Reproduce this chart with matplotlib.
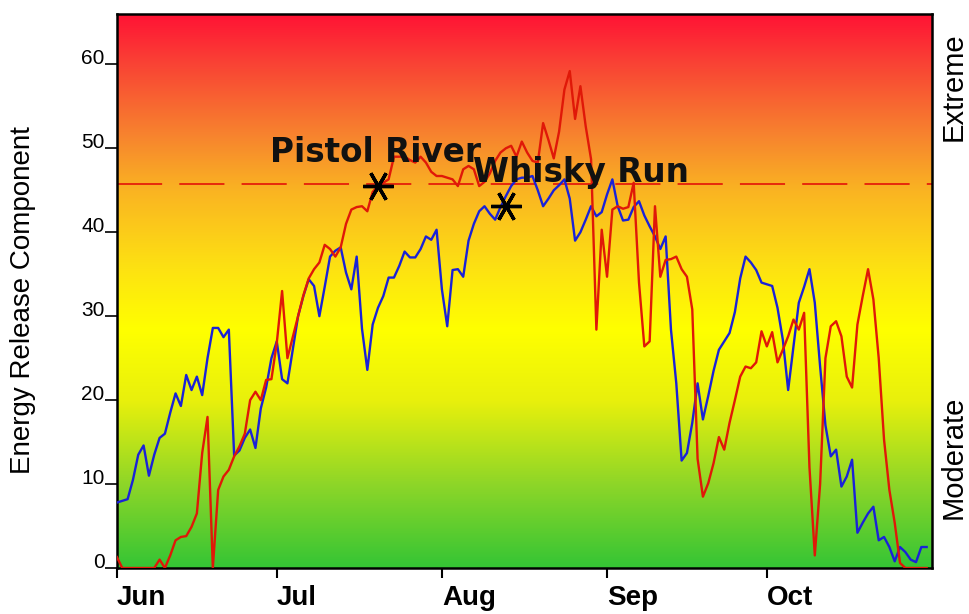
import numpy as np
import pandas as pd
import matplotlib
matplotlib.use('Agg')
import matplotlib.pyplot as plt
import matplotlib.dates as mdates
from matplotlib.colors import LinearSegmentedColormap

# daily ERC values, Jun 1 .. Oct 31
dates = pd.date_range('2010-06-01', '2010-10-31', freq='D')

whisky_run = [
    7.8, 8.0, 8.2, 10.5, 13.5, 14.6, 11.0, 13.5, 15.5, 16.0,
    18.5, 20.8, 19.3, 23.0, 21.2, 22.8, 20.6, 25.0, 28.6, 28.6,
    27.5, 28.4, 13.4, 14.0, 15.5, 16.5, 14.3, 19.0, 21.5, 25.0,
    27.0, 22.5, 22.0, 26.0, 30.0, 32.4, 34.4, 33.6, 30.0, 33.5,
    37.1, 37.8, 38.2, 35.2, 33.2, 37.1, 28.5, 23.6, 29.0, 31.0,
    32.4, 34.6, 34.6, 36.0, 37.7, 37.0, 37.0, 38.0, 39.5, 39.1,
    40.3, 33.2, 28.8, 35.5, 35.6, 34.7, 39.0, 41.0, 42.5, 43.1,
    42.2, 41.5, 43.0, 44.3, 45.5, 46.3, 46.5, 46.5, 46.7, 45.0,
    43.1, 44.0, 45.0, 45.6, 46.3, 44.0, 39.0, 40.0, 41.5, 43.1,
    41.9, 42.4, 44.5, 46.3, 43.1, 41.4, 41.5, 43.0, 43.7, 42.0,
    40.7, 39.5, 38.0, 39.5, 28.4, 22.0, 12.8, 13.7, 17.3, 22.0,
    17.7, 20.5, 23.5, 26.0, 27.0, 28.0, 30.5, 34.5, 37.1, 36.4,
    35.5, 34.0, 33.8, 33.6, 31.0, 27.2, 21.2, 26.4, 31.6, 33.5,
    35.6, 31.6, 24.0, 17.0, 13.3, 14.1, 9.7, 10.9, 12.9, 4.2,
    5.4, 6.5, 7.3, 3.3, 3.7, 2.5, 0.8, 2.5, 1.9, 1.0,
    0.7, 2.5, 2.5,
]

pistol_river = [
    1.3, 0.0, 0.0, 0.0, 0.0, 0.0, 0.0, 0.0, 1.0, 0.0,
    1.5, 3.3, 3.7, 3.8, 4.9, 6.5, 13.7, 18.0, 0.0, 9.3,
    10.9, 11.7, 13.3, 14.5, 16.0, 20.0, 21.0, 20.0, 22.4, 22.5,
    26.8, 33.0, 25.0, 27.5, 30.0, 32.5, 34.5, 35.6, 36.4, 38.5,
    38.0, 37.1, 38.2, 41.0, 42.7, 43.0, 43.1, 42.5, 44.8, 45.5,
    45.9, 46.3, 49.0, 49.0, 49.0, 48.6, 48.3, 49.0, 48.3, 47.2,
    46.7, 46.7, 46.5, 46.3, 45.5, 47.5, 47.9, 47.5, 45.5, 46.0,
    47.0, 48.5, 49.5, 50.0, 50.3, 49.0, 50.8, 49.5, 48.5, 48.3,
    53.0, 51.0, 48.8, 52.0, 57.0, 59.2, 53.5, 57.4, 52.6, 48.7,
    28.4, 40.3, 34.7, 42.7, 43.1, 42.8, 43.0, 45.9, 34.0, 26.4,
    27.0, 43.1, 34.7, 36.7, 36.8, 37.1, 35.6, 34.7, 30.8, 13.0,
    8.5, 10.1, 12.5, 15.6, 14.1, 17.3, 20.0, 22.8, 24.0, 23.8,
    24.5, 28.2, 26.4, 28.1, 24.5, 26.0, 27.6, 29.6, 28.4, 30.4,
    12.0, 1.5, 10.0, 25.0, 28.8, 29.4, 27.6, 22.8, 21.5, 29.0,
    32.4, 35.6, 32.0, 25.0, 15.3, 9.3, 5.4, 0.6, 0.0, 0.0,
    0.0, 0.0, 0.0,
]

threshold = 45.7
stations = ['Pistol River', 'Whisky Run']
star_dates = ['2010-07-20', '2010-08-13']
star_values = [45.5, 43.1]
label_dates = ['2010-06-29 16:00', '2010-08-06 20:00']
label_values = [48.4, 46.0]

fig = plt.figure(figsize=(9.69, 6.14), dpi=100)
ax = fig.add_axes([0.1207, 0.0749, 0.8411, 0.9023])

# background gradient green -> yellow -> red
stops = [(0.0, '#35c535'), (0.15, '#8ed628'), (0.30, '#e8f00c'), (0.43, '#ffff00'),
         (0.54, '#fde212'), (0.68, '#fab422'), (0.78, '#f7842e'), (0.90, '#f94834'),
         (1.0, '#ff1235')]
cmap = LinearSegmentedColormap.from_list('erc', stops)
grad = np.linspace(0, 1, 256).reshape(-1, 1)
x0 = mdates.date2num(pd.Timestamp('2010-06-01'))
x1 = mdates.date2num(pd.Timestamp('2010-11-01'))
ax.imshow(grad, cmap=cmap, origin='lower', aspect='auto',
          extent=[x0, x1, 0, 66], zorder=0)

ax.axhline(threshold, color='#e41e0a', linewidth=1.3, dashes=(25, 9.5), zorder=2)

ax.plot(dates, whisky_run, color='#1a22d8', linewidth=1.7, zorder=3)
ax.plot(dates, pistol_river, color='#e01808', linewidth=1.7, zorder=3)

for name, sd, sv, ld, lv in zip(stations, star_dates, star_values, label_dates, label_values):
    ax.plot(pd.Timestamp(sd), sv, marker=(6, 2, 90), markersize=22, color='black',
            markeredgewidth=2.4, zorder=5)
    ax.text(pd.Timestamp(ld), lv, name, fontsize=23.5, fontweight='bold',
            family='DejaVu Sans', color='#111111', zorder=6)

ax.set_xlim(x0, x1)
ax.set_ylim(0, 66)
ax.xaxis.set_major_locator(mdates.MonthLocator())
ax.xaxis.set_major_formatter(mdates.DateFormatter('%b'))
ax.set_xticks(ax.get_xticks()[:-1])
ax.set_yticks([0, 10, 20, 30, 40, 50, 60])

ax.tick_params(axis='x', length=7, width=1.5, pad=5, labelsize=20)
ax.tick_params(axis='y', length=9, width=1.2, pad=0, labelsize=15)
for lab in ax.get_xticklabels():
    lab.set_fontweight('bold')
    lab.set_family('Liberation Sans')
    lab.set_ha('left')
for lab in ax.get_yticklabels():
    lab.set_family('Liberation Sans')
    lab.set_va('baseline')

for sp in ax.spines.values():
    sp.set_linewidth(1.8)

fig.text(0.024, 0.511, 'Energy Release Component', rotation=90, fontsize=20,
         family='Liberation Sans', ha='center', va='center')
ax.text(1.027, 57.4, 'Extreme', rotation=90, fontsize=21, family='Liberation Sans',
        ha='center', va='center', transform=ax.get_yaxis_transform())
ax.text(1.027, 13.2, 'Moderate', rotation=90, fontsize=21, family='Liberation Sans',
        ha='center', va='center', transform=ax.get_yaxis_transform())

fig.savefig('out.png', dpi=100)
